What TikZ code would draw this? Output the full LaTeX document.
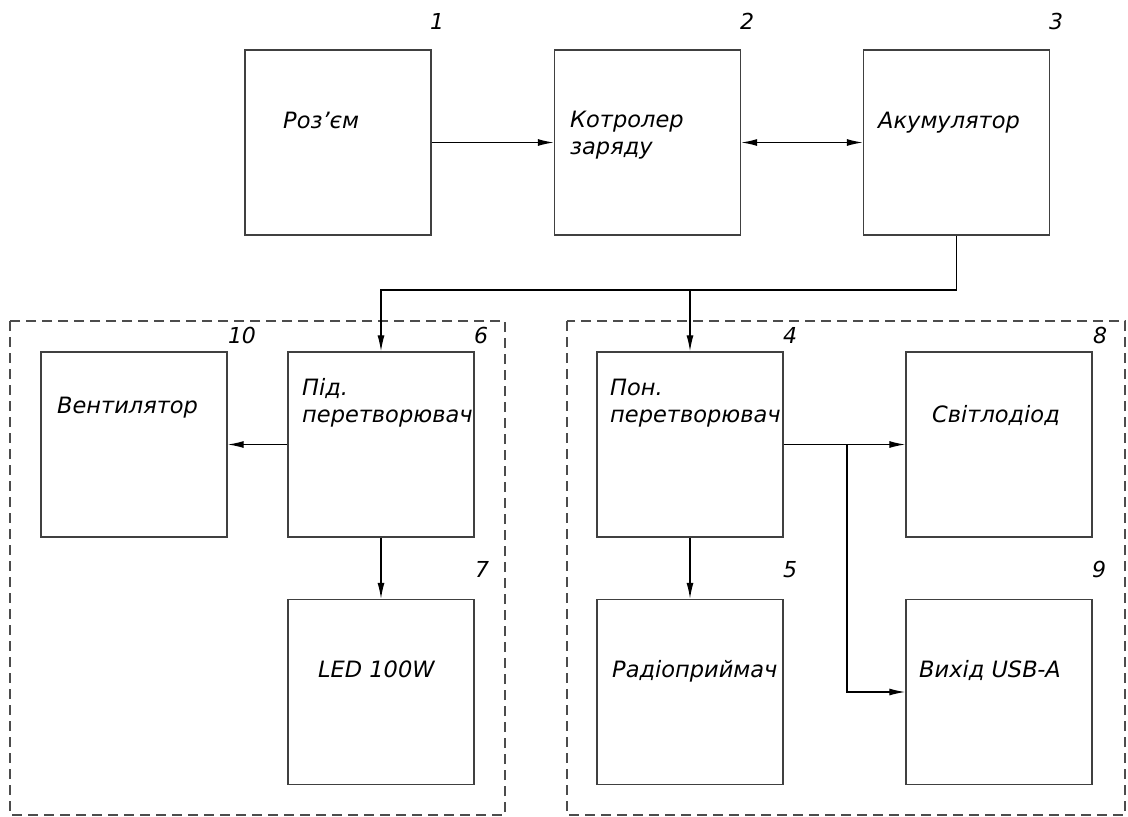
\documentclass[tikz,border=0pt]{standalone}
\usepackage{fontspec}
\setmainfont{DejaVu Sans}
\usepackage{tikz}
\usetikzlibrary{arrows.meta}
\tikzset{>={Latex[width=7pt,length=16pt]}}
\tikzset{
  blok/.style={draw=black!75, line width=1.4pt, minimum width=186pt, minimum height=185pt, inner sep=0pt},
  napys/.style={anchor=base west, inner sep=0pt, font=\fontsize{22.5}{27}\selectfont\itshape, align=left},
  nomer/.style={anchor=base, inner sep=0pt, font=\fontsize{22}{26}\selectfont\itshape},
  zvjazok/.style={line width=1.3pt},
  grupa/.style={draw=black!70, line width=1.3pt, dash pattern=on 10pt off 6pt}
}

\begin{document}
\begin{tikzpicture}[x=1pt,y=-1pt]
\useasboundingbox (0,0) rectangle (1128,817);
% groups
\draw[grupa] (10,321) rectangle (505,815);
\draw[grupa] (567,321) rectangle (1125,815);
% blocks
\node[blok] (roz) at (338,142.5) {};
\node[blok] (kontr) at (647.5,142.5) {};
\node[blok] (akum) at (956.5,142.5) {};
\node[blok] (vent) at (134,444.5) {};
\node[blok] (pidv) at (381,444.5) {};
\node[blok] (led) at (381,692) {};
\node[blok] (ponv) at (690,444.5) {};
\node[blok] (svit) at (999,444.5) {};
\node[blok] (radio) at (690,692) {};
\node[blok] (usb) at (999,692) {};
% texts (base = last line)
\node[napys] (troz) at (283,128) {Роз'єм};
\node[napys] (tkontr) at (570,154) {Котролер\\заряду};
\node[napys] (takum) at (878,128) {Акумулятор};
\node[napys] (tvent) at (57,413) {Вентилятор};
\node[napys] (tpidv) at (302,422) {Під.\\перетворювач};
\node[napys] (tled) at (318,677) {LED 100W};
\node[napys] (tponv) at (610,422) {Пон.\\перетворювач};
\node[napys] (tsvit) at (932,422) {Світлодіод};
\node[napys] (tradio) at (612,677) {Радіоприймач};
\node[napys] (tusb) at (919,677) {Вихід USB-A};
% numbers
\node[nomer] (n1) at (437,29) {1};
\node[nomer] (n2) at (747,29) {2};
\node[nomer] (n3) at (1056,29) {3};
\node[nomer] (n10) at (242,343) {10};
\node[nomer] (n6) at (481,343) {6};
\node[nomer] (n7) at (482,577) {7};
\node[nomer] (n4) at (790,343) {4};
\node[nomer] (n8) at (1100,343) {8};
\node[nomer] (n5) at (790,577) {5};
\node[nomer] (n9) at (1099,577) {9};
% connections
\coordinate (shyna) at (956.5,290);
\coordinate (vidgal) at (847,444.5);
\draw[zvjazok,->] (roz) -- (kontr);
\draw[zvjazok,<->] (kontr) -- (akum);
\draw[zvjazok,->] (akum.south) -- (shyna) -| (pidv.north);
\draw[zvjazok,->] (shyna -| ponv.north) -- (ponv.north);
\draw[zvjazok,->] (pidv) -- (vent);
\draw[zvjazok,->] (pidv) -- (led);
\draw[zvjazok,->] (ponv) -- (radio);
\draw[zvjazok,->] (ponv) -- (svit);
\draw[zvjazok,->] (vidgal) |- (usb.west);
\end{tikzpicture}
\end{document}
